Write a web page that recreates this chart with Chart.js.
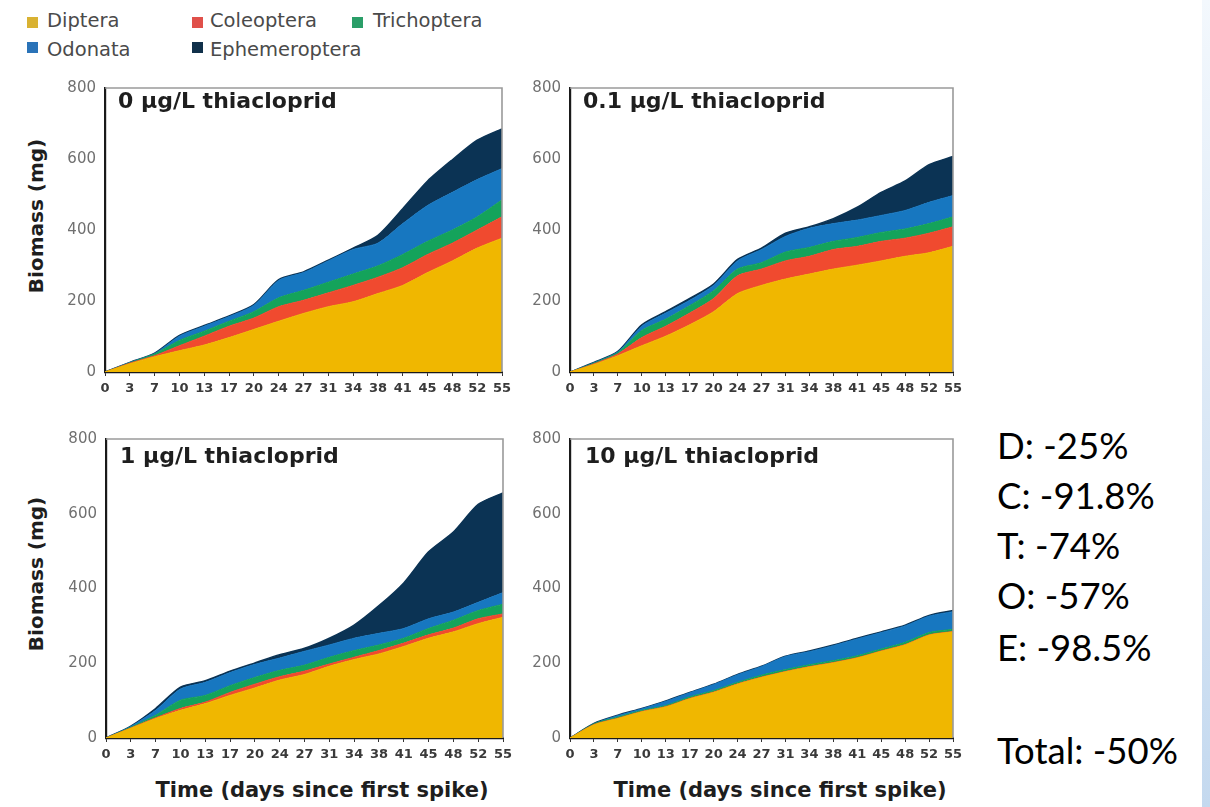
<!DOCTYPE html>
<html>
<head>
<meta charset="utf-8">
<script src="https://cdn.jsdelivr.net/npm/chart.js@4.4.1/dist/chart.umd.min.js"></script>
<style>
  html, body { margin:0; padding:0; background:#fff; }
  body { width:1210px; height:807px; position:relative; overflow:hidden; font-family:'DejaVu Sans', sans-serif; }
  .box { position:absolute; }
  .ptitle { position:absolute; font-family:'DejaVu Sans',sans-serif; font-weight:bold; font-size:22px; line-height:1; color:#1e1e1e; white-space:nowrap; }
  .ytitle { position:absolute; width:240px; text-align:center; font-family:'DejaVu Sans',sans-serif; font-weight:bold; font-size:20px; line-height:1; color:#1e1e1e; transform:translate(-50%,-50%) rotate(-90deg); white-space:nowrap; }
  .xtitle { position:absolute; width:400px; text-align:center; font-family:'DejaVu Sans',sans-serif; font-weight:bold; font-size:21px; line-height:1; color:#1e1e1e; transform:translateX(-50%); white-space:nowrap; }
  .leg { position:absolute; font-family:'DejaVu Sans',sans-serif; font-size:19.5px; line-height:1; color:#4a4a4a; white-space:nowrap; }
  .sq { position:absolute; width:11px; height:11px; }
  .note { position:absolute; left:997px; font-family:Lato,'Open Sans',sans-serif; font-size:36.5px; line-height:1; color:#000; white-space:nowrap; }
  #strip { position:absolute; left:1202px; top:0; width:8px; height:807px; background:linear-gradient(#f3f8fd, #c4d9ef); }
</style>
</head>
<body>
<script>
// ---- data ----
const days = ['0','3','7','10','13','17','20','24','27','31','34','38','41','45','48','52','55'];
const taxa = ['Diptera','Coleoptera','Trichoptera','Odonata','Ephemeroptera'];
const panelTitles = ['0 µg/L thiacloprid','0.1 µg/L thiacloprid','1 µg/L thiacloprid','10 µg/L thiacloprid'];
const yTicks = [0, 200, 400, 600, 800];
const notes = ['D: -25%','C: -91.8%','T: -74%','O: -57%','E: -98.5%','Total: -50%'];

// 0 µg/L
const diptera0       = [0,23,43,60,76,97,120,143,165,184,198,221,244,280,313,349,377];
const coleoptera0    = [0,2,3,14,25,32,32,41,37,39,46,46,50,51,50,51,60];
const trichoptera0   = [0,1,5,15,14,14,18,25,28,30,32,32,37,37,37,37,48];
const odonata0       = [0,1,1,12,14,13,18,49,50,60,69,64,87,101,106,105,88];
const ephemeroptera0 = [0,0,1,2,2,2,2,2,2,2,4,22,42,69,92,111,112];
// 0.1 µg/L
const diptera01       = [0,21,46,74,101,133,170,221,244,262,276,290,301,313,326,336,354];
const coleoptera01    = [0,2,5,23,28,33,37,50,46,51,50,55,53,55,51,55,55];
const trichoptera01   = [0,2,4,20,20,21,22,19,18,25,25,23,25,25,26,27,28];
const odonata01       = [0,1,2,12,17,15,15,23,37,44,54,50,49,48,52,60,60];
const ephemeroptera01 = [0,1,1,4,4,5,4,4,4,9,4,14,36,65,83,106,110];
// 1 µg/L
const diptera1       = [0,26,52,74,92,114,134,155,170,192,210,225,245,267,284,306,323];
const coleoptera1    = [0,1,2,5,4,8,10,9,9,6,6,9,9,9,10,13,9];
const trichoptera1   = [0,2,7,22,18,18,18,17,16,18,18,15,13,17,21,22,26];
const odonata1       = [0,2,13,30,35,35,35,33,37,33,33,31,26,26,22,22,31];
const ephemeroptera1 = [0,1,5,5,4,4,4,9,8,18,35,74,122,179,214,262,267];
// 10 µg/L
const diptera10       = [0,35,52,70,83,105,122,144,162,177,190,201,214,232,249,275,284];
const coleoptera10    = [0,1,1,1,1,1,1,1,1,1,1,1,1,1,1,1,1];
const trichoptera10   = [0,2,3,3,3,4,4,4,5,5,5,5,5,5,6,6,6];
const odonata10       = [0,0,4,4,11,11,16,20,23,35,35,40,45,44,44,44,47];
const ephemeroptera10 = [0,1,1,1,1,1,1,1,1,1,2,2,2,2,2,2,3];

const panelData = [
  [diptera0, coleoptera0, trichoptera0, odonata0, ephemeroptera0],
  [diptera01, coleoptera01, trichoptera01, odonata01, ephemeroptera01],
  [diptera1, coleoptera1, trichoptera1, odonata1, ephemeroptera1],
  [diptera10, coleoptera10, trichoptera10, odonata10, ephemeroptera10]
];

// ---- styles ----
const colors = ['#f0b700','#f04a2f','#14a35b','#1777c0','#0b3354'];
const legendColors = ['#d9b232','#e0504a','#2a9e68','#2a73b8','#10304a'];

// plot-area geometry per panel: [left, top, width, height]
const areas = [
  [105, 82, 397, 290],
  [570, 82, 383, 290],
  [106, 433, 397, 305],
  [570, 433, 383, 305]
];
const titlePos = [[118,90],[583,90],[120,445],[585,445]];
const YW = 50, XH = 36, PT = 12, PR = 16;

const framePlugin = {
  id: 'frame',
  afterDatasetsDraw(chart) {
    const a = chart.chartArea, ctx = chart.ctx;
    ctx.save();
    ctx.strokeStyle = '#9a9a9a';
    ctx.lineWidth = 1.6;
    ctx.beginPath();
    ctx.moveTo(a.left, a.top);
    ctx.lineTo(a.right, a.top);
    ctx.lineTo(a.right, a.bottom);
    ctx.stroke();
    ctx.restore();
  }
};

function addEl(cls, text, css) {
  const d = document.createElement('div');
  d.className = cls;
  if (text !== null) d.textContent = text;
  Object.assign(d.style, css);
  document.body.appendChild(d);
  return d;
}

areas.forEach((ar, p) => {
  const [L, T, W, H] = ar;
  const box = addEl('box', null, {
    left: (L - YW) + 'px', top: (T - PT) + 'px',
    width: (YW + W + PR) + 'px', height: (PT + H + XH) + 'px'
  });
  const cv = document.createElement('canvas');
  box.appendChild(cv);
  const datasets = taxa.map((name, i) => ({
    label: name,
    data: panelData[p][i],
    backgroundColor: colors[i],
    borderColor: colors[i],
    borderWidth: i === 4 ? 1.5 : 1,
    pointRadius: 0,
    tension: 0.25,
    fill: i === 0 ? 'origin' : '-1'
  }));
  new Chart(cv, {
    type: 'line',
    data: { labels: days, datasets },
    plugins: [framePlugin],
    options: {
      responsive: true,
      maintainAspectRatio: false,
      animation: false,
      events: [],
      layout: { padding: { top: PT, right: PR, left: 0, bottom: 0 } },
      plugins: { legend: { display: false }, tooltip: { enabled: false }, title: { display: false } },
      scales: {
        x: {
          type: 'category',
          offset: false,
          grid: { display: true, drawOnChartArea: false, drawTicks: true, tickLength: 4, color: '#333', lineWidth: 1 },
          border: { display: true, color: '#1a1a1a', width: 2.2 },
          ticks: {
            autoSkip: false, maxRotation: 0, minRotation: 0, padding: 5,
            color: '#3a3a3a',
            font: { family: "'DejaVu Sans',sans-serif", size: 13, weight: 'bold' }
          },
          afterFit(s) { s.height = XH; }
        },
        y: {
          stacked: true,
          min: 0, max: 800,
          afterBuildTicks(s) { s.ticks = yTicks.map(v => ({ value: v })); },
          grid: { display: true, drawOnChartArea: false, drawTicks: false, color: '#333' },
          border: { display: true, color: '#1a1a1a', width: 2.2 },
          ticks: {
            padding: 9, color: '#707070',
            font: { family: "'DejaVu Sans',sans-serif", size: 15 }
          },
          afterFit(s) { s.width = YW; }
        }
      }
    }
  });
  addEl('ptitle', panelTitles[p], { left: titlePos[p][0] + 'px', top: titlePos[p][1] + 'px' });
});

// axis titles
addEl('ytitle', 'Biomass (mg)', { left: '36px', top: '216px' });
addEl('ytitle', 'Biomass (mg)', { left: '36px', top: '574px' });
addEl('xtitle', 'Time (days since first spike)', { left: '322px', top: '780px' });
addEl('xtitle', 'Time (days since first spike)', { left: '780px', top: '780px' });

// legend
const legPos = [[27,17,47,11],[192,17,210,11],[352,17,373,11],[27,42,47,40],[192,42,210,40]];
taxa.forEach((name, i) => {
  const [sx, sy, tx, ty] = legPos[i];
  addEl('sq', null, { left: sx + 'px', top: sy + 'px', background: legendColors[i] });
  addEl('leg', name, { left: tx + 'px', top: ty + 'px' });
});

// right-hand notes
const noteTops = [427, 477, 527, 577, 629, 732];
notes.forEach((t, i) => addEl('note', t, { top: noteTops[i] + 'px' }));

addEl('', null, {}).id = 'strip';
</script>
</body>
</html>
